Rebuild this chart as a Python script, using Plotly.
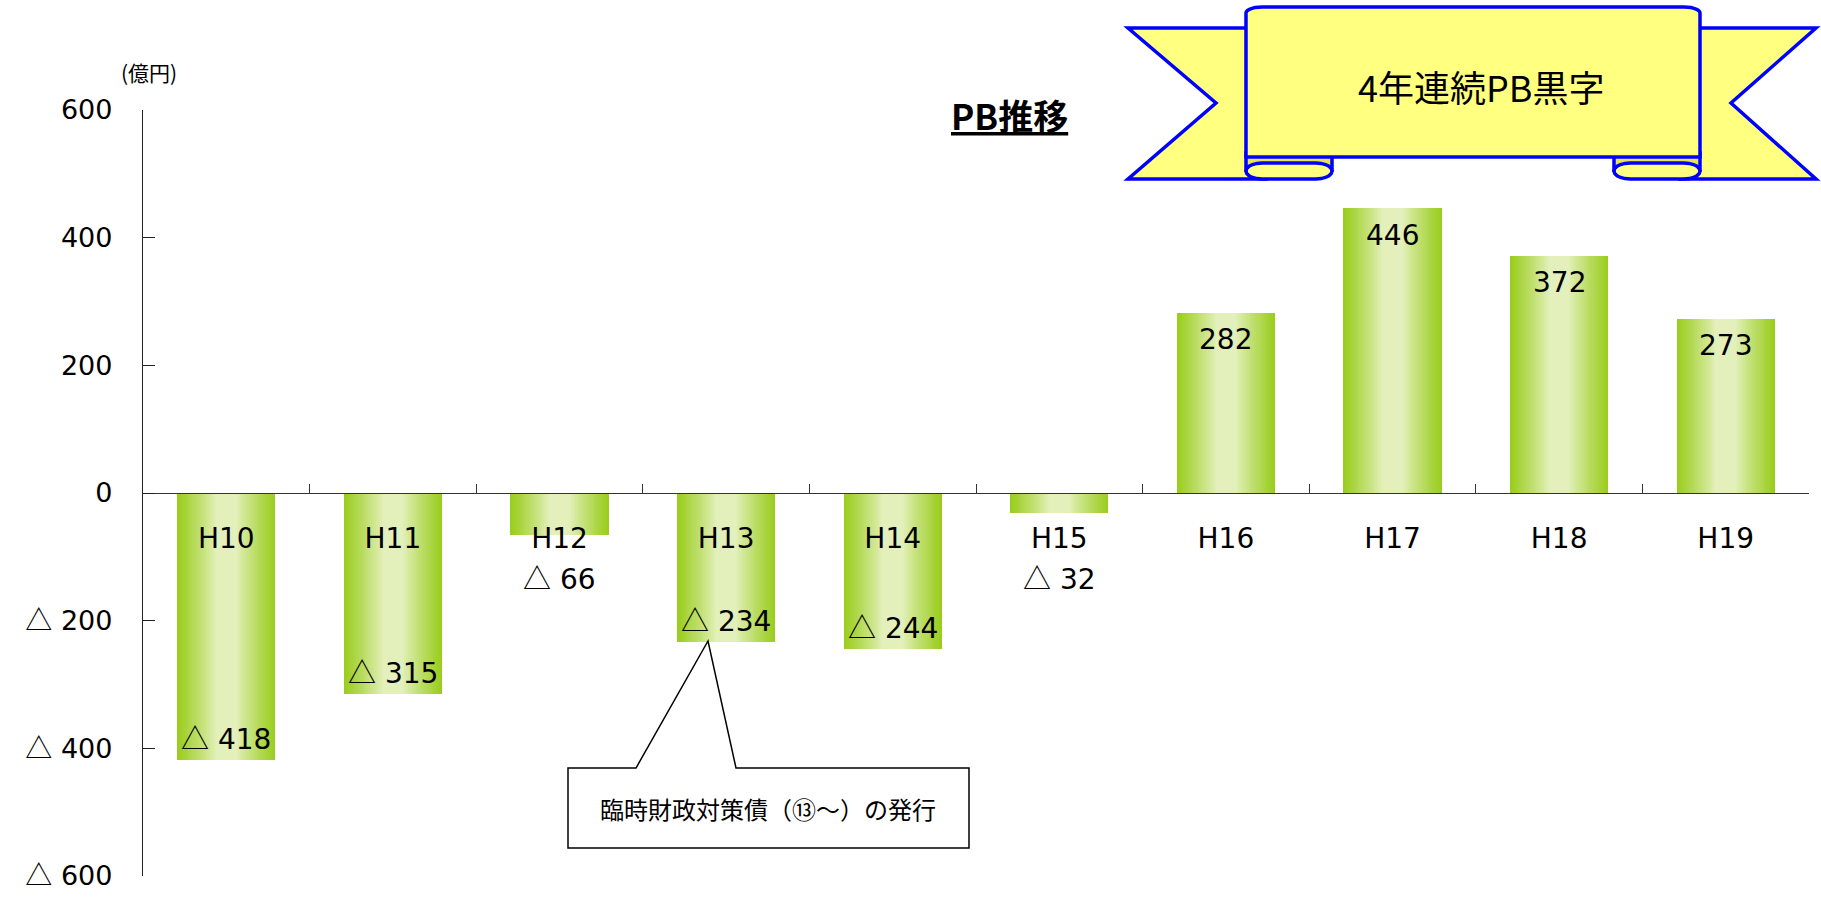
import plotly.graph_objects as go
import numpy as np

# Primary balance by fiscal year (100 million yen)
years = ["H10", "H11", "H12", "H13", "H14", "H15", "H16", "H17", "H18", "H19"]
pb_values = [-418, -315, -66, -234, -244, -32, 282, 446, 372, 273]

y_tick_vals = [600, 400, 200, 0, -200, -400, -600]
y_tick_text = ["600", "400", "200", "0", "△ 200", "△ 400", "△ 600"]

W, H = 1821, 897
M_L, M_R, M_T, M_B = 143, 12, 110, 21
PW, PH = W - M_L - M_R, H - M_T - M_B

FONT = "DejaVu Sans, Noto Sans CJK JP"
JP_FONT = "Noto Sans CJK JP, DejaVu Sans"
TRI = "<span style='font-family:Noto Sans CJK JP'>△</span>"


def px(x, y):
    """Pixel position on the page -> paper coordinates."""
    return (x - M_L) / PW, (H - M_B - y) / PH


def path(points, close=True):
    s = ""
    for i, (x, y) in enumerate(points):
        u, v = px(x, y)
        s += ("M" if i == 0 else " L") + f"{u:.5f},{v:.5f}"
    return s + (" Z" if close else "")


def tri_text(s):
    return s.replace("△", TRI)


def fmt(v):
    return f"{TRI} {abs(v)}" if v < 0 else f"{v}"


def note(x, y, text, size, family=JP_FONT):
    u, v = px(x, y)
    fig.add_annotation(xref="paper", yref="paper", x=u, y=v, text=text,
                       xanchor="center", yanchor="middle", showarrow=False,
                       font=dict(size=size, family=family, color="black"))


fig = go.Figure()

# Cylinder-like bars: stacked overlays narrowing toward a pale centre
dark = np.array([154, 205, 30])
light = np.array([227, 240, 187])
bar_w = 0.59
n_layers = 26
for i in range(n_layers):
    f = 1 - i / n_layers  # 1 at the outer edge, ->0 at the centre
    t = np.clip((f - 0.22) / 0.78, 0, 1) ** 0.9
    c = light + (dark - light) * t
    fig.add_trace(go.Bar(
        x=years, y=pb_values, width=bar_w * f,
        marker=dict(color=f"rgb({c[0]:.0f},{c[1]:.0f},{c[2]:.0f})", line=dict(width=0)),
        hoverinfo="skip", showlegend=False,
    ))

fig.update_layout(
    width=W, height=H,
    margin=dict(l=M_L, r=M_R, t=M_T, b=M_B, autoexpand=False),
    paper_bgcolor="white", plot_bgcolor="white",
    barmode="overlay", bargap=0,
    font=dict(family=FONT, size=28, color="black"),
    showlegend=False,
    xaxis=dict(
        type="category", range=[-0.5, 9.5], automargin=False,
        anchor="free", position=0.5,
        showline=True, linecolor="#333", linewidth=1.3,
        ticks="inside", tickson="boundaries", ticklen=9, tickcolor="#333", tickwidth=1.3,
        ticklabelstandoff=20, tickfont=dict(size=28, family=FONT),
        showgrid=False, zeroline=False,
    ),
    yaxis=dict(
        range=[-600, 600], automargin=False, ticklabeloverflow="allow",
        tickvals=y_tick_vals, ticktext=[tri_text(t) for t in y_tick_text],
        showline=True, linecolor="#222", linewidth=1.3,
        ticks="inside", ticklen=12, tickcolor="#222", tickwidth=1.3,
        ticklabelstandoff=24, tickfont=dict(size=27, family=FONT),
        showgrid=False, zeroline=False,
    ),
)

# Value labels
for yr, v in zip(years, pb_values):
    if v >= 0:
        fig.add_annotation(x=yr, y=v, text=fmt(v), showarrow=False,
                           yanchor="middle", yshift=-27, font=dict(size=28))
    elif v < -100:
        fig.add_annotation(x=yr, y=v, text=fmt(v), showarrow=False,
                           yanchor="middle", yshift=23, font=dict(size=28))
    else:
        fig.add_annotation(x=yr, y=0, text=fmt(v), showarrow=False,
                           yanchor="middle", yshift=-84, font=dict(size=28))

# Unit label and title
note(149, 72, "(億円)", 21)
note(1009, 114, "<b><u>PB推移</u></b>", 35)

# Callout box with pointer to H13
fig.add_shape(type="path", xref="paper", yref="paper",
              path=path([(568, 768), (636, 768), (708, 641), (736, 768),
                         (969, 768), (969, 848), (568, 848)]),
              fillcolor="white", line=dict(color="black", width=1.5))
note(768, 808, "臨時財政対策債（⑬～）の発行", 24)

# Ribbon banner
yellow = "#FFFF80"
flap_shade = "#E4E44C"
blue = "#0000FF"
bw = 3.5
R_L, R_R, R_T, R_B = 1246, 1700, 7, 157
TAIL_T, TAIL_B, NOTCH_Y = 28, 179, 103


def shape(pts, fill):
    fig.add_shape(type="path", xref="paper", yref="paper", path=path(pts),
                  fillcolor=fill, line=dict(color=blue, width=bw))


# Tails
shape([(1128, TAIL_T), (R_L + 20, TAIL_T), (R_L + 20, TAIL_B), (1128, TAIL_B),
       (1216, NOTCH_Y)], yellow)
shape([(1816, TAIL_T), (R_R - 20, TAIL_T), (R_R - 20, TAIL_B), (1816, TAIL_B),
       (1731, NOTCH_Y)], yellow)


def stadium(x0, x1, y0, y1, r):
    cy, ry = (y0 + y1) / 2, (y1 - y0) / 2
    pts = []
    for a in np.linspace(-np.pi / 2, np.pi / 2, 11):
        pts.append((x1 - r + r * np.cos(a), cy + ry * np.sin(a)))
    for a in np.linspace(np.pi / 2, 1.5 * np.pi, 11):
        pts.append((x0 + r + r * np.cos(a), cy + ry * np.sin(a)))
    return pts


# Curled flaps under the scroll body
for fx0, fx1 in [(R_L, 1332), (1614, R_R)]:
    shape([(fx0, R_B - 4), (fx1, R_B - 4), (fx1, 170), (fx0, 170)], flap_shade)
    shape(stadium(fx0, fx1, 163, TAIL_B, 16), yellow)

# Scroll body with rounded top corners
body = [(R_L, R_B)]
for a in np.linspace(np.pi, 1.5 * np.pi, 8):
    body.append((R_L + 16 + 16 * np.cos(a), R_T + 6 + 6 * np.sin(a)))
for a in np.linspace(1.5 * np.pi, 2 * np.pi, 8):
    body.append((R_R - 16 + 16 * np.cos(a), R_T + 6 + 6 * np.sin(a)))
body.append((R_R, R_B))
shape(body, yellow)

note(1481, 86, "4年連続PB黒字", 36)

fig.write_html("out.html")
